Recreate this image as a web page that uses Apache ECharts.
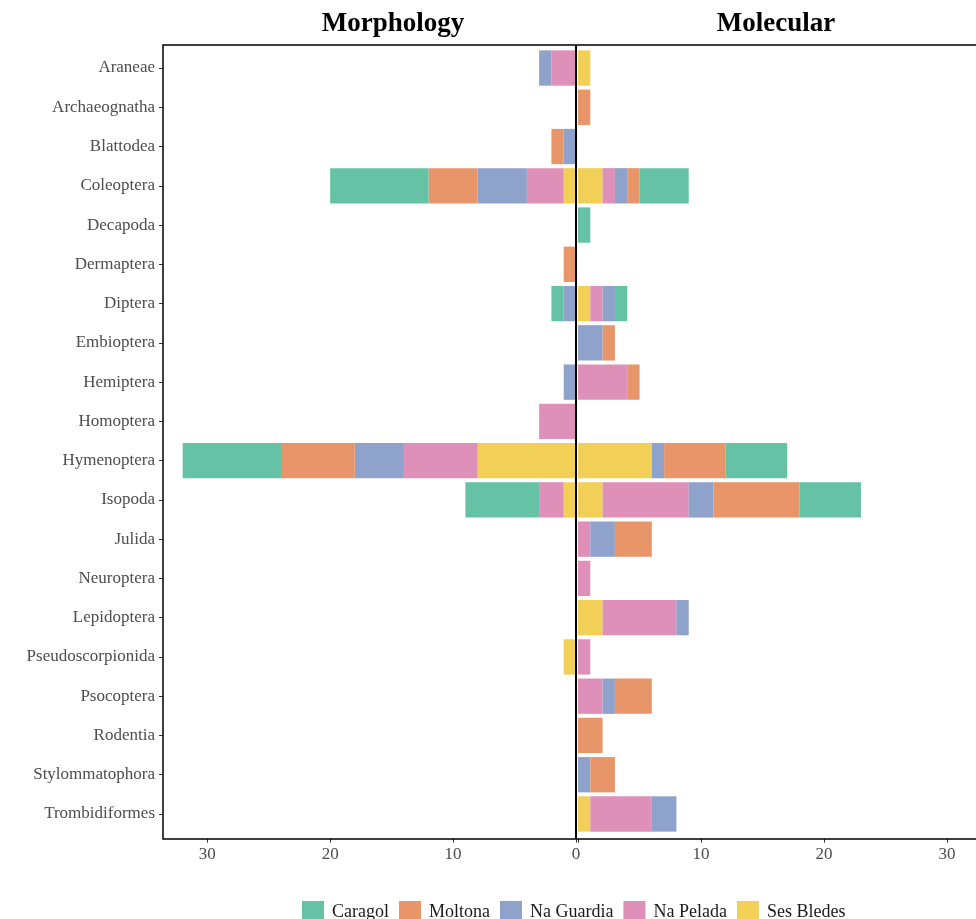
<!DOCTYPE html>
<html>
<head>
<meta charset="utf-8">
<script src="https://cdn.jsdelivr.net/npm/echarts@6/dist/echarts.min.js"></script>
<style>
    html, body { margin: 0; padding: 0; background: #fff; }
    #chart { width: 976px; height: 919px; }
</style>
</head>
<body>
<div id="chart"></div>
<script>
// categories (top to bottom)
const orders = ['Araneae', 'Archaeognatha', 'Blattodea', 'Coleoptera', 'Decapoda', 'Dermaptera',
    'Diptera', 'Embioptera', 'Hemiptera', 'Homoptera', 'Hymenoptera', 'Isopoda', 'Julida',
    'Neuroptera', 'Lepidoptera', 'Pseudoscorpionida', 'Psocoptera', 'Rodentia',
    'Stylommatophora', 'Trombidiformes'];

const sites = ['Caragol', 'Moltona', 'Na Guardia', 'Na Pelada', 'Ses Bledes'];
const siteColors = ['#66C2A5', '#E8956A', '#8FA2CC', '#DE90B8', '#F2CF56'];

// Morphology counts per site (same order as orders)
const morphCaragol   = [0, 0, 0, 8, 0, 0, 1, 0, 0, 0, 8, 6, 0, 0, 0, 0, 0, 0, 0, 0];
const morphMoltona   = [0, 0, 1, 4, 0, 1, 0, 0, 0, 0, 6, 0, 0, 0, 0, 0, 0, 0, 0, 0];
const morphGuardia   = [1, 0, 1, 4, 0, 0, 1, 0, 1, 0, 4, 0, 0, 0, 0, 0, 0, 0, 0, 0];
const morphPelada    = [2, 0, 0, 3, 0, 0, 0, 0, 0, 3, 6, 2, 0, 0, 0, 0, 0, 0, 0, 0];
const morphBledes    = [0, 0, 0, 1, 0, 0, 0, 0, 0, 0, 8, 1, 0, 0, 0, 1, 0, 0, 0, 0];

// Molecular counts per site
const molCaragol     = [0, 0, 0, 4, 1, 0, 1, 0, 0, 0, 5, 5, 0, 0, 0, 0, 0, 0, 0, 0];
const molMoltona     = [0, 1, 0, 1, 0, 0, 0, 1, 1, 0, 5, 7, 3, 0, 0, 0, 3, 2, 2, 0];
const molGuardia     = [0, 0, 0, 1, 0, 0, 1, 2, 0, 0, 1, 2, 2, 0, 1, 0, 1, 0, 1, 2];
const molPelada      = [0, 0, 0, 1, 0, 0, 1, 0, 4, 0, 0, 7, 1, 1, 6, 1, 2, 0, 0, 5];
const molBledes      = [1, 0, 0, 2, 0, 0, 1, 0, 0, 0, 6, 2, 0, 0, 2, 0, 0, 0, 0, 1];

const morphData = [morphCaragol, morphMoltona, morphGuardia, morphPelada, morphBledes];
const molData = [molCaragol, molMoltona, molGuardia, molPelada, molBledes];

const xTicks = [0, 10, 20, 30];

const serif = '"Liberation Serif", "DejaVu Serif", serif';

function makeXAxis(gridIndex, inverse, max, labelValues) {
    return {
        type: 'value',
        gridIndex: gridIndex,
        inverse: inverse,
        min: 0,
        max: max,
        interval: 10,
        offset: 5,
        axisLine: { show: false },
        splitLine: { show: false },
        axisTick: {
            show: true,
            length: 4,
            customValues: xTicks,
            lineStyle: { color: '#333', width: 1 }
        },
        axisLabel: {
            customValues: labelValues,
            margin: 7,
            color: '#4d4d4d',
            fontFamily: serif,
            fontSize: 17
        }
    };
}

function initChart() {
    const chart = echarts.init(document.getElementById('chart'));

    // stack from zero outward: Ses Bledes first, Caragol last
    const series = [];
    for (let i = sites.length - 1; i >= 0; i--) {
        series.push({
            name: sites[i],
            type: 'bar',
            stack: 'morph',
            xAxisIndex: 0,
            yAxisIndex: 0,
            barCategoryGap: '10%',
            itemStyle: { color: siteColors[i] },
            data: morphData[i]
        });
        series.push({
            name: sites[i],
            type: 'bar',
            stack: 'mol',
            xAxisIndex: 1,
            yAxisIndex: 1,
            barCategoryGap: '10%',
            itemStyle: { color: siteColors[i] },
            data: molData[i]
        });
    }

    const option = {
        animation: false,
        backgroundColor: '#fff',
        title: [{
            text: 'Morphology',
            left: 388,
            top: 6,
            textAlign: 'center',
            textStyle: { fontFamily: serif, fontWeight: 'bold', fontSize: 27, color: '#000' }
        }, {
            text: 'Molecular',
            left: 771,
            top: 6,
            textAlign: 'center',
            textStyle: { fontFamily: serif, fontWeight: 'bold', fontSize: 27, color: '#000' }
        }],
        legend: {
            data: sites,
            left: 302,
            top: 901,
            padding: 0,
            icon: 'rect',
            itemWidth: 22,
            itemHeight: 22,
            itemGap: 10,
            textStyle: { fontFamily: serif, fontSize: 18, color: '#1a1a1a', padding: [0, 0, 0, 3] }
        },
        grid: [
            { left: 163, right: 400, top: 48.4, bottom: 85.4 },
            { left: 578, right: 0, top: 48.4, bottom: 85.4 }
        ],
        xAxis: [
            makeXAxis(0, true, 33.6, xTicks),
            makeXAxis(1, false, 32.35, [10, 20, 30])
        ],
        yAxis: [{
            type: 'category',
            gridIndex: 0,
            position: 'left',
            inverse: true,
            data: orders,
            axisLine: { show: false, onZero: false },
            axisTick: {
                show: true,
                length: 4,
                alignWithLabel: true,
                lineStyle: { color: '#333', width: 1 }
            },
            axisLabel: {
                margin: 8,
                color: '#4d4d4d',
                fontFamily: serif,
                fontSize: 17
            }
        }, {
            type: 'category',
            gridIndex: 1,
            inverse: true,
            data: orders,
            show: false
        }],
        graphic: [{
            type: 'rect',
            z: 100,
            shape: { x: 163, y: 45, width: 820, height: 794 },
            style: { fill: null, stroke: '#000', lineWidth: 1.5 }
        }, {
            type: 'line',
            z: 100,
            shape: { x1: 576, y1: 45, x2: 576, y2: 839 },
            style: { stroke: '#000', lineWidth: 2 }
        }],
        series: series
    };
    chart.setOption(option);
}

document.addEventListener('DOMContentLoaded', initChart);
</script>
</body>
</html>
